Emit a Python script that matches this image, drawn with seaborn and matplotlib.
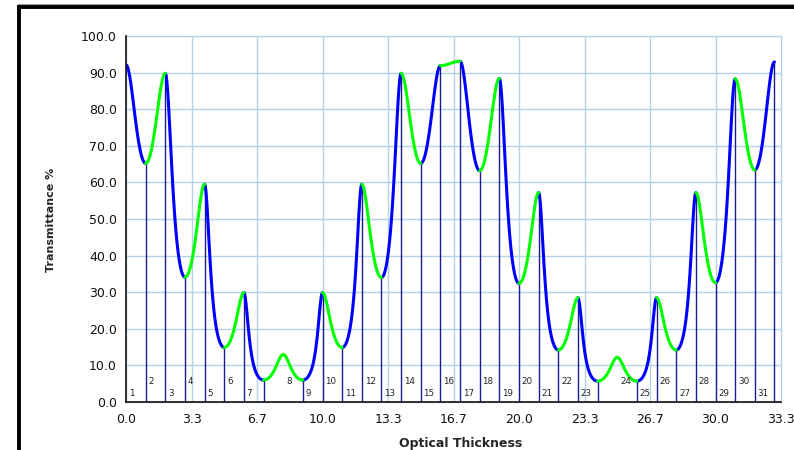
import numpy as np
import pandas as pd
import matplotlib
matplotlib.use("Agg")
import matplotlib.pyplot as plt
from matplotlib.lines import Line2D
import seaborn as sns

# Layer stack: number of quarter waves in each of the 31 layers
layer_numbers = list(range(1, 32))
layer_quarter_waves = [1, 1, 1, 1, 1, 1, 1, 2, 1, 1, 1, 1, 1, 1, 1, 1,
                       1, 1, 1, 1, 1, 1, 1, 2, 1, 1, 1, 1, 1, 1, 1]

# Transmittance (%) at every quarter-wave turning point, from bare substrate to the last layer
turning_transmittance = [92.1, 65.2, 89.8, 34.1, 59.5, 14.9, 29.9, 6.0, 13.0, 6.0,
                         29.9, 14.9, 59.5, 34.0, 89.8, 65.2, 91.9, 93.1, 63.2, 88.4,
                         32.4, 57.2, 14.2, 28.5, 5.7, 12.2, 5.7, 28.5, 14.2, 57.2,
                         32.6, 88.3, 63.4, 92.9]

x_tick_values = [i * 10 / 3 for i in range(11)]
x_tick_labels = ["0.0", "3.3", "6.7", "10.0", "13.3", "16.7", "20.0", "23.3", "26.7", "30.0", "33.3"]
y_tick_values = list(range(0, 101, 10))
y_tick_labels = [f"{v:.1f}" for v in y_tick_values]

QW = 1.0  # optical thickness of one quarter wave

# Monitoring curve: inside a quarter wave, 1/T moves as cos^2 / sin^2 of the phase
rows = []
seg = 0
qw_index = 0
layer_end_x = []
layer_end_T = []
for layer, nqw in zip(layer_numbers, layer_quarter_waves):
    parity = "odd" if layer % 2 else "even"
    for _ in range(nqw):
        t0 = turning_transmittance[qw_index]
        t1 = turning_transmittance[qw_index + 1]
        phase = np.linspace(0, np.pi / 2, 60)
        inv_t = np.cos(phase) ** 2 / t0 + np.sin(phase) ** 2 / t1
        xs = (qw_index + phase / (np.pi / 2)) * QW
        for xv, tv in zip(xs, 1.0 / inv_t):
            rows.append({"x": xv, "T": tv, "segment": seg, "layer": parity})
        seg += 1
        qw_index += 1
    layer_end_x.append(qw_index * QW)
    layer_end_T.append(turning_transmittance[qw_index])

curve = pd.DataFrame(rows)

sns.set_style("white")
plt.rcParams["font.family"] = ["DejaVu Sans"]

fig = plt.figure(figsize=(7.94, 4.5), dpi=100)
ax = fig.add_axes([126 / 794, 48 / 450, 655 / 794, 366 / 450])

grid_color = "#b3d3ea"
for xv in x_tick_values:
    ax.axvline(xv, color=grid_color, lw=1.0, zorder=0, clip_on=False)
for yv in y_tick_values:
    ax.axhline(yv, color=grid_color, lw=1.0, zorder=0, clip_on=False)

# Layer boundaries
ax.vlines(layer_end_x, 0, layer_end_T, color="#1c1c8a", lw=1.0, zorder=2)

sns.lineplot(data=curve, x="x", y="T", hue="layer", units="segment",
             estimator=None, sort=False, palette={"odd": "#0000ff", "even": "#00ff00"},
             lw=2.2, legend=False, ax=ax, zorder=3)

# Layer numbers just after the start of each layer's last quarter wave
for layer, xe in zip(layer_numbers, layer_end_x):
    y = 2.3 if layer % 2 else 5.6
    ax.text(xe - QW + 0.14, y, str(layer), fontsize=6.3, color="#222222",
            ha="left", va="center", zorder=4)

ax.set_xlim(0, 100 / 3)
ax.set_ylim(0, 100)
ax.set_xticks(x_tick_values)
ax.set_xticklabels(x_tick_labels)
ax.set_yticks(y_tick_values)
ax.set_yticklabels(y_tick_labels)
ax.set_xlabel("")
ax.set_ylabel("")
ax.tick_params(axis="both", which="major", labelsize=9, colors="#111111",
               length=5, width=1.0, direction="out")
ax.tick_params(axis="y", pad=1.5)
ax.tick_params(axis="x", pad=3)
for side in ("top", "right"):
    ax.spines[side].set_visible(False)
for side in ("left", "bottom"):
    ax.spines[side].set_color("#111111")
    ax.spines[side].set_linewidth(1.2)
    ax.spines[side].set_zorder(5)

fig.text(51 / 794, 1 - 220 / 450, "Transmittance %", rotation=90, fontsize=8,
         fontweight="bold", ha="center", va="center")
fig.text(461 / 794, 1 - 443 / 450, "Optical Thickness", fontsize=9,
         fontweight="bold", ha="center", va="center")

# Outer chart frame
fig.add_artist(Line2D([17.5 / 794, 1.0], [1 - 4.3 / 450, 1 - 4.3 / 450],
                      transform=fig.transFigure, color="#999999", lw=0.8))
fig.add_artist(Line2D([19 / 794, 1.0], [1 - 7 / 450, 1 - 7 / 450],
                      transform=fig.transFigure, color="black", lw=2.8,
                      solid_capstyle="projecting"))
fig.add_artist(Line2D([19 / 794, 19 / 794], [0.0, 1 - 7 / 450],
                      transform=fig.transFigure, color="black", lw=2.8,
                      solid_capstyle="projecting"))

fig.savefig("out.png", dpi=100)
